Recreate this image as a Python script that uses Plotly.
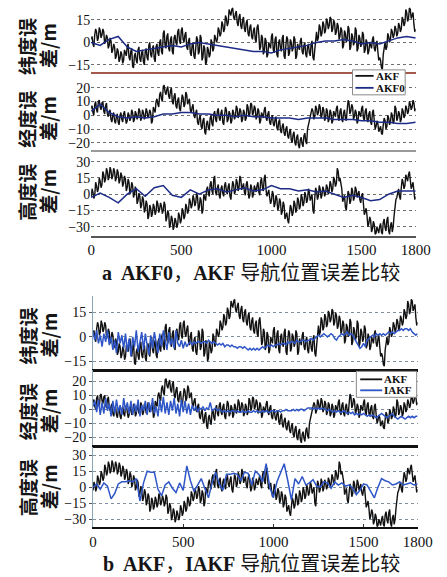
import plotly.graph_objects as go

# ---------------- data ----------------
t_akf = list(range(0, 1801, 5))        # time axis for AKF (s)
t_iakf = list(range(0, 1801, 10))      # time axis for IAKF lat / lon
t_iakf_alt = list(range(0, 1801, 20))  # time axis for IAKF altitude
t_akf0 = list(range(0, 1801, 50))      # time axis for AKF0

x_ticks = [0, 500, 1000, 1500, 1800]

akf_lat = [2, 4, -1, -3, 5, 9, 7, 1, 3, 10, 8, 3, 5, 9, 7, -1, 1, 5, 3, -4,
           -2, 3, 1, -7, -5, -1, -3, -11, -9, -4, -6, -13, -11, -6, -8, -14, -12, -5, -7, -9,
           -3, -1, -10, -12, -6, -4, -16, -17, -9, -7, -12, -14, -5, -3, -11, -13, -7, -5, -13, -15,
           -6, -4, -10, -12, -2, 0, -8, -10, -4, -2, -11, -13, -3, -1, -7, -9, 0, 2, -6, -8,
           6, 8, -2, -4, 4, 6, -4, -6, 2, 4, -6, -8, 3, 5, 0, -2, 7, 9, 1, -1,
           8, 10, 2, 0, 5, 7, -3, -5, 1, 3, -7, -9, -2, 0, -9, -11, -4, 4, 2, -8,
           -6, 5, 3, -12, -10, -2, -4, -15, -13, -3, -5, -10, -8, 2, 0, -6, -4, 5, 3, 0,
           2, 10, 8, 4, 6, 14, 12, 7, 9, 18, 16, 11, 13, 22, 20, 18, 22, 23, 17, 15,
           19, 21, 13, 11, 17, 19, 11, 9, 15, 17, 9, 7, 13, 15, 6, 4, 10, 12, 4, 2,
           8, 10, 2, 0, 10, 12, 5, -5, -3, 5, 3, -8, -6, 3, 1, -10, -8, 0, -2, -4,
           4, 6, -5, -7, 2, 4, -8, -10, 0, 2, -4, -6, 3, 5, -9, -11, -2, 4, 2, -9,
           -7, 2, 0, -6, -4, 4, 2, -11, -9, -1, -3, -5, 1, 3, -6, -8, -2, 0, -8, -10,
           -3, -1, -7, -9, -1, 1, -10, -12, -5, 1, 7, 1, 3, 12, 10, 4, 6, 14, 12, 6,
           8, 16, 14, 9, 11, 17, 16, 7, 9, 15, 13, 5, 7, 13, 11, 2, 4, 10, 8, -4,
           -2, 8, 6, 0, 2, 11, 9, -5, -3, 6, 4, -2, 0, 10, 8, -6, -4, 5, 3, -3,
           -1, 7, 5, -7, -5, 2, 0, -8, -6, 0, -2, -4, 2, 4, -4, -6, -1, 1, -6, -12,
           -10, -12, -17, -18, -8, -3, 0, -5, -3, 6, 4, 0, 2, 9, 7, 3, 5, 11, 9, 4,
           6, 13, 11, 7, 9, 17, 15, 11, 13, 22, 20, 14, 16, 23, 22, 16, 18, 20, 12, 7,
           9]

akf_lon = [5, 7, 2, 0, 8, 10, 4, 2, 10, 11, 6, 4, 9, 10, 3, 1, 7, 9, 1, -1,
           2, 4, -3, -5, 0, 2, -4, -6, -1, 1, -5, -7, 0, 2, -3, -5, 1, 3, -2, -6,
           -4, 2, 0, -4, -2, 4, 2, -5, -3, 3, 1, -3, -1, 5, 3, -4, -2, 4, 2, -3,
           -1, 5, 3, -2, 0, 4, 2, -6, -4, 6, 4, 2, 10, 12, 8, 6, 15, 17, 12, 10,
           21, 22, 17, 15, 19, 21, 14, 12, 18, 20, 10, 8, 14, 16, 7, 5, 11, 13, 5, 3,
           9, 15, 13, 6, 8, 17, 15, 8, 10, 12, 4, 2, 6, 8, 0, -2, 2, 4, -5, -7,
           -2, 0, -8, -10, -4, -2, -12, -14, -6, -4, -9, -11, -2, 0, -6, -8, 1, 3, -3, -5,
           3, 5, -2, -4, 2, 4, -5, -7, 0, 6, 4, -5, -3, 3, 1, -6, -4, 4, 2, -3,
           -1, 7, 5, -2, 0, 5, 3, -5, -3, 4, 2, -4, -2, 8, 6, -1, 1, 9, 8, 0,
           2, 7, 5, -3, -1, 5, 3, -6, -4, 2, 0, -2, 4, 6, -2, -4, 1, 3, -5, -7,
           -2, 0, -6, -8, -3, -1, -9, -11, -5, -3, -11, -13, -8, -6, -13, -15, -10, -8, -15, -17,
           -12, -10, -18, -20, -14, -12, -20, -22, -16, -14, -22, -24, -18, -16, -21, -23, -15, -13, -19, -21,
           -10, -7, -4, -2, 0, 5, 3, -3, -1, 7, 5, 0, 2, 8, 6, -2, 0, 6, 4, -4,
           -2, 5, 3, -5, -3, 4, 2, -6, -4, 3, 1, -1, 5, 7, -2, -4, 3, 5, -3, -5,
           2, 4, -2, -4, 4, 11, 9, 1, 3, 8, 6, -3, -1, 4, 2, -6, -4, 3, 1, -1,
           5, 7, -2, -4, 3, 5, -3, -5, 1, 3, -5, -7, 2, 4, -4, -10, -8, -4, -6, -12,
           -10, -8, -13, -14, -7, -2, -4, -10, -8, 0, -2, -7, -5, 2, 0, -6, -4, 7, 5, -4,
           -2, 3, 1, -5, -3, 5, 3, -2, 0, 7, 5, 1, 3, 10, 8, 4, 6, 11, 9, 3,
           5]

akf_alt = [-3, 5, 2, -4, -1, 11, 8, 2, 5, 15, 12, 6, 9, 21, 18, 11, 14, 24, 21, 13,
           16, 25, 22, 14, 17, 24, 21, 12, 15, 23, 20, 10, 13, 20, 17, 7, 10, 17, 14, 3,
           6, 14, 11, 0, 3, 11, 8, -3, 0, 7, 4, -9, -6, 1, -2, -13, -10, -2, -5, -17,
           -14, -6, -9, -23, -20, -10, -13, -21, -18, -9, -12, -19, -16, -6, -9, -17, -14, -8, -11, -18,
           -15, -7, -10, -25, -22, -15, -18, -31, -28, -20, -23, -33, -30, -22, -25, -31, -28, -17, -20, -27,
           -24, -13, -16, -23, -20, -9, -12, -18, -15, -4, -7, -13, -10, -1, -4, -11, -8, 1, -2, -15,
           -12, -3, -6, -18, -15, 0, -3, -6, 4, 7, 1, -2, 9, 12, 3, 0, 14, 17, 2, -1,
           6, 9, -1, -4, 5, 8, 1, -2, 8, 11, 3, 0, 7, 10, -2, -5, 4, 12, 9, 0,
           3, 14, 11, 3, 6, 17, 14, 4, 7, 10, 2, -1, 9, 12, 4, -4, -1, 9, 6, -3,
           0, 8, 5, 2, 8, 11, 2, -1, 12, 15, 6, 3, 15, 18, 4, -2, 1, 4, -3, -9,
           -6, 3, 0, -12, -9, -1, -4, -15, -12, -4, -7, -19, -16, -7, -10, -23, -20, -17, -24, -27,
           -18, -10, -13, -20, -17, -6, -9, -17, -14, -3, -6, -14, -11, 0, -3, -11, -8, 2, -1, -8,
           -5, 5, 2, -6, -3, 0, -15, -18, -4, 6, 3, -5, -2, 8, 5, -4, -1, 7, 4, -2,
           1, 9, 6, 0, 3, 12, 9, 2, 5, 16, 13, 7, 10, 24, 21, 12, 15, 10, 5, -7,
           -4, -1, -12, -15, -5, 3, 0, -9, -6, 6, 3, -6, -3, 7, 4, -3, 0, 3, -5, -8,
           -2, 1, -9, -19, -16, -13, -20, -30, -27, -21, -24, -35, -32, -25, -28, -37, -36, -30, -33, -36,
           -30, -27, -35, -37, -26, -23, -31, -34, -24, -21, -34, -37, -29, -26, -35, -30, -20, -12, -5, -3,
           2, 5, -2, -5, 6, 14, 11, 5, 8, 18, 15, 12, 18, 21, 13, 5, 8, 11, 3, -5,
           -2]

akf0_lat = [0, -2, 2, 4, -3, -6, -5, -4, -3, -2, -3, -1, 0, -1, -2, -3, -4, -5, -6,
            -6, -7, -5, -4, -3, -2, 0, 1, 1, 2, 1, -1, 0, -1, 1, 3, 4, 3]
akf0_lon = [3, 8, 2, -1, -2, -1, -2, -1, 1, 1, 2, 2, 1, 1, 0, 0, -1, 0, -1,
            -1, -2, -2, -2, -3, -2, -2, -2, -3, -3, -3, -4, -4, -5, -5, -6, -6, -5]
akf0_alt = [-3, 1, -3, -8, 0, 5, -2, 6, 8, -1, -3, 4, 0, 4, 5, 2, 4, 6, 3,
            4, 8, 5, 5, 3, 4, 2, 3, 0, -3, -1, -3, -6, -5, 0, 3, 3, 3]

iakf_lat = [3, -2, 4, -4, 1, -6, 2, -3, 4, -5,
            0, -8, -2, -10, 3, -4, 1, -7, 2, -9,
            -1, -12, 0, -6, 4, -9, -3, 3, -8, 2,
            -5, -11, 1, -7, 3, -4, -10, 2, -6, 4,
            -3, -8, 3, -5, -1, -7, 4, -4, -6, -2,
            -7, -3, -6, -4, -3, -5, -3, -4, -3, -3,
            -4, -3, -3, -4, -2, -3, -4, -3, -4, -5,
            -4, -5, -4, -6, -5, -5, -6, -5, -6, -6,
            -7, -6, -6, -7, -6, -7, -8, -7, -8, -7,
            -8, -7, -8, -7, -6, -7, -6, -5, -6, -5,
            -6, -5, -5, -4, -5, -4, -4, -5, -3, -4,
            -3, -3, -4, -2, -3, -3, -2, -2, -3, -2,
            -2, -1, -2, -1, 0, 1, 0, 1, 2, 1,
            0, 1, 2, 1, -1, -2, 0, 1, 2, 1,
            2, 3, 1, 2, 1, -1, -3, -5, -7, -6,
            -4, -6, -2, -1, 0, 1, 0, 2, 1, 2,
            1, 2, 1, 2, 3, 2, 3, 2, 3, 4,
            4, 5, 4, 5, 5, 4, 5, 3, 2, 1,
            2]

iakf_lon = [2, 6, -2, 7, -4, 5, -3, 8, -1, 4,
            -5, 6, -3, 7, -2, 3, -4, 8, -1, 5,
            -3, 6, -4, 4, -2, 7, -5, 3, -1, 6,
            -4, 5, -2, 8, -3, 2, -5, 7, -2, 9,
            -3, 5, -4, 6, -1, 8, -3, 4, -5, 7,
            -2, 6, -3, 4, -4, 3, -1, 2, -2, 1,
            0, 2, -1, 1, 0, 5, -1, 0, 1, -1,
            0, -1, -2, -1, -2, -1, -2, -1, -1, -2,
            -1, -2, -2, -1, -2, -2, -1, -2, -2, -1,
            -2, -1, -2, -2, -1, -2, -1, -2, -2, -1,
            -1, -2, -1, -1, -2, -1, -1, 0, -1, -1,
            -1, 0, -1, 0, -1, 0, 0, -1, 0, 1,
            1, 1, 0, 1, 0, 1, 0, 1, 0, 0,
            -1, 0, -1, -2, -1, -2, -1, -2, -2, -1,
            -2, -3, -2, -3, -2, -4, -3, -4, -3, -4,
            -3, -4, -5, -4, -5, -4, -5, -6, -5, -4,
            -3, -4, -5, -6, -5, -4, -3, -5, -6, -7,
            -6, -5, -6, -7, -6, -5, -6, -5, -6, -5,
            -5]

iakf_alt = [0, 3, -2, 4, 1, -11, -6, 3, 5, 5,
            6, 5, 8, -13, 4, 15, 14, 14, -2, -8,
            2, 5, -1, -5, 4, -3, 20, 6, -4, 2,
            8, -1, -10, 4, 14, 3, -3, 12, 12, 13,
            12, 6, 14, 13, 2, 15, 12, 5, 22, 0,
            -10, 5, 13, 22, 6, -12, 8, 3, 10, 2,
            4, 7, 1, 0, 5, 4, -1, 5, 2, 4,
            1, 2, -1, -7, -3, 3, 2, -4, -10, 0,
            8, 6, 5, 2, 3, 5, 2, 3, 4, 2,
            3]

lat_ticks = [-15, 0, 15]
lon_ticks = [-20, -10, 0, 10, 20]
alt_ticks = [-30, -15, 0, 15, 30]

legend_a_names = ["AKF", "AKF0"]
legend_b_names = ["AKF", "IAKF"]

# ---------------- figure ----------------
W, H = 447, 577
BLACK = "#111111"
NAVY = "#1c2b86"
BLUE = "#2f56c6"
SERIF = "Liberation Serif, Times New Roman, serif"
CJK = "Noto Sans CJK SC, Liberation Serif, serif"
MIX = "Liberation Serif, Noto Sans CJK SC, serif"

fig = go.Figure()

def add(x, y, color, width, ax, name):
    fig.add_trace(go.Scatter(x=x, y=y, mode="lines", name=name,
                             line=dict(color=color, width=width),
                             xaxis="x" + ax, yaxis="y" + ax,
                             showlegend=False))

AKF_W = 1.4
# panel a
add(t_akf, akf_lat, BLACK, AKF_W, "", "AKF")
add(t_akf0, akf0_lat, NAVY, 1.5, "", "AKF0")
add(t_akf, akf_lon, BLACK, AKF_W, "2", "AKF")
add(t_akf0, akf0_lon, NAVY, 1.5, "2", "AKF0")
add(t_akf, akf_alt, BLACK, AKF_W, "3", "AKF")
add(t_akf0, akf0_alt, NAVY, 1.5, "3", "AKF0")
# panel b
add(t_akf, akf_lat, BLACK, AKF_W, "4", "AKF")
add(t_iakf, iakf_lat, BLUE, 1.5, "4", "IAKF")
add(t_akf, akf_lon, BLACK, AKF_W, "5", "AKF")
add(t_iakf, iakf_lon, BLUE, 1.5, "5", "IAKF")
add(t_akf, akf_alt, BLACK, AKF_W, "6", "AKF")
add(t_iakf_alt, iakf_alt, BLUE, 1.5, "6", "IAKF")

def py(px):
    return 1 - px / H

def px_x(px):
    return px / W

xa_dom = [px_x(91), px_x(430)]
xb_dom = [px_x(93), px_x(432)]

panels = [
    ("", xa_dom, 2, 72, [-19.7, 27.0], lat_ticks, "#a35a4c", 1.5, "a"),
    ("2", xa_dom, 73, 150, [-25.1, 30.9], lon_ticks, "#9a9a9a", 2, "a"),
    ("3", xa_dom, 151, 236, [-38.3, 40.2], alt_ticks, "#555555", 1.5, "a"),
    ("4", xb_dom, 297, 370, [-19.9, 24.8], lat_ticks, "#111111", 2.5, "b"),
    ("5", xb_dom, 371, 446, [-25.7, 27.9], lon_ticks, "#111111", 2.5, "b"),
    ("6", xb_dom, 448, 528, [-37.5, 37.5], alt_ticks, "#111111", 2, "b"),
]

tickfont = dict(family=SERIF, size=14, color="#111111")
layout = {}
for suf, xd, ytop, ybot, rng, ticks, lcol, lw, pan in panels:
    bottom = suf in ("3", "6")
    grid_col = "#6e6e6e" if pan == "a" else "#7f8f9c"
    layout["xaxis" + suf] = dict(
        domain=xd, range=[0, 1800], anchor="y" + suf,
        showgrid=False, zeroline=False,
        showline=True, linecolor=lcol, linewidth=lw,
        tickvals=x_ticks, showticklabels=bottom,
        ticks=("inside" if (bottom and pan == "b") else ""), ticklen=3,
        tickcolor="#333", tickfont=dict(family=SERIF, size=15, color="#111111"),
    )
    layout["yaxis" + suf] = dict(
        domain=[py(ybot), py(ytop)], range=rng, anchor="x" + suf,
        tickvals=ticks, showgrid=True, gridcolor=grid_col, gridwidth=1,
        griddash="3px,3px", zeroline=False,
        showline=(pan == "b"), linecolor="#8aa4b8", linewidth=1,
        ticks=("outside" if pan == "b" else ""), ticklen=3, tickcolor="#555",
        tickfont=tickfont,
    )

titles = [("纬度误", "差/m", 46), ("经度误", "差/m", 119), ("高度误", "差/m", 192),
          ("纬度误", "差/m", 336), ("经度误", "差/m", 412), ("高度误", "差/m", 488)]
annotations = []
for left, right, yc in titles:
    for txt, xc in ((left, 24), (right, 46)):
        annotations.append(dict(
            text=txt, textangle=-90, showarrow=False,
            x=px_x(xc), y=py(yc), xref="paper", yref="paper",
            xanchor="center", yanchor="middle",
            font=dict(family=CJK, size=19, color="#151515", weight="bold")))

annotations.append(dict(text="<b>a  AKF0</b>，<b>AKF</b> 导航位置误差比较", showarrow=False,
                        x=px_x(258), y=py(273), xref="paper", yref="paper",
                        xanchor="center", yanchor="middle",
                        font=dict(family=MIX, size=20, color="#151515")))
annotations.append(dict(text="<b>b  AKF</b>，<b>IAKF</b> 导航位置误差比较", showarrow=False,
                        x=px_x(258), y=py(565), xref="paper", yref="paper",
                        xanchor="center", yanchor="middle",
                        font=dict(family=MIX, size=20, color="#151515")))

# manual legends (box, line samples, labels)
shapes = []
def legend(box, rows, x_line, x_text, names, colors):
    x0, y0, x1, y1 = box
    shapes.append(dict(type="rect", xref="paper", yref="paper",
                       x0=px_x(x0), x1=px_x(x1), y0=py(y1), y1=py(y0),
                       line=dict(color="#8a8a8a", width=1), fillcolor="white",
                       layer="above"))
    for ry, nm, col in zip(rows, names, colors):
        shapes.append(dict(type="line", xref="paper", yref="paper",
                           x0=px_x(x_line[0]), x1=px_x(x_line[1]), y0=py(ry), y1=py(ry),
                           line=dict(color=col, width=1.8), layer="above"))
        annotations.append(dict(text="<b>" + nm + "</b>", showarrow=False,
                                x=px_x(x_text), y=py(ry), xref="paper", yref="paper",
                                xanchor="left", yanchor="middle",
                                font=dict(family=SERIF, size=11, color="#111111")))

legend((364, 70, 419, 95), (76, 88), (367, 386), 386, legend_a_names, [BLACK, NAVY])
legend((368, 372, 431, 398), (380, 391), (372, 395), 395, legend_b_names, [BLACK, BLUE])

fig.update_layout(
    width=W, height=H, autosize=False,
    margin=dict(l=0, r=0, t=0, b=0),
    paper_bgcolor="white", plot_bgcolor="white",
    annotations=annotations, shapes=shapes, showlegend=False,
    **layout,
)

fig.write_html("out.html", config={"displayModeBar": False},
               post_script="document.body.style.margin='0px';document.body.style.overflow='hidden';")
